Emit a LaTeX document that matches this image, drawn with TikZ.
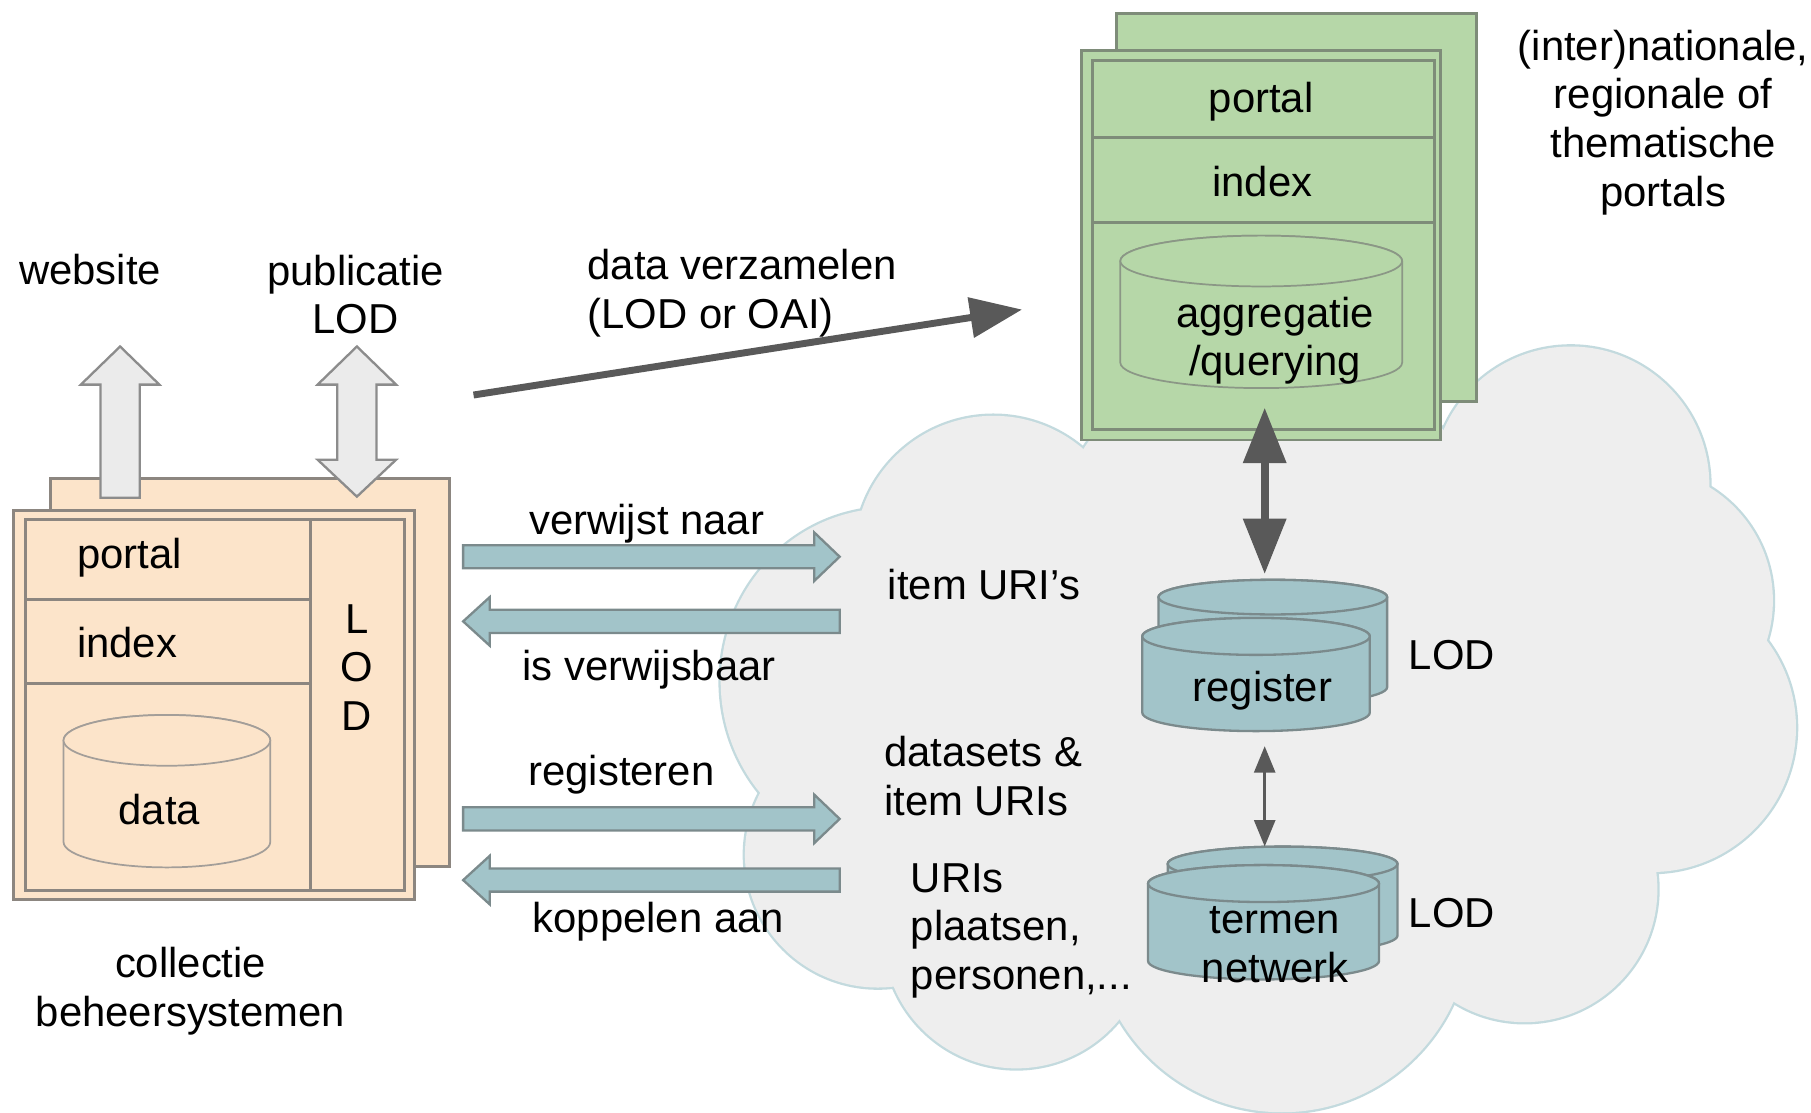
\documentclass[tikz,border=0pt]{standalone}
\usepackage{fontspec}
\setmainfont{Liberation Sans}
\usepackage{tikz}
\usetikzlibrary{calc,positioning,arrows.meta}
\definecolor{beige}{HTML}{FCE4CA}
\definecolor{boxline}{HTML}{8C8680}
\definecolor{portalgreen}{HTML}{B6D7A8}
\definecolor{greenline}{HTML}{7E8C79}
\definecolor{cloudgray}{HTML}{EEEEEE}
\definecolor{cloudline}{HTML}{C3DADE}
\definecolor{uriblue}{HTML}{A2C4C9}
\definecolor{uriline}{HTML}{7B8A8C}
\definecolor{hollowgray}{HTML}{EBEBEB}
\definecolor{hollowline}{HTML}{8C8C8C}
\definecolor{darkarrow}{HTML}{595959}
\tikzset{
  lbl/.style={inner sep=0pt, align=center},
  lbll/.style={inner sep=0pt, align=left, anchor=west},
  beigebox/.style={draw=boxline, fill=beige, line width=0.025cm},
  beigeline/.style={draw=boxline, line width=0.025cm},
  greenbox/.style={draw=greenline, fill=portalgreen, line width=0.025cm},
  greenln/.style={draw=greenline, line width=0.025cm},
  beigecyl/.style={draw=boxline!80, fill=beige, line width=0.015cm},
  greencyl/.style={draw=greenline!90, fill=portalgreen, line width=0.015cm},
  bluecyl/.style={draw=uriline, fill=uriblue, line width=0.02cm},
  hollow/.style={draw=hollowline, fill=hollowgray, line width=0.02cm},
  uriarrow/.style={draw=uriline, fill=uriblue, line width=0.02cm},
  harvest/.style={draw=darkarrow, line width=0.06cm, -{Triangle[length=0.45cm,width=0.34cm]}},
  darkdbl/.style={draw=darkarrow, line width=0.07cm, {Triangle[length=0.48cm,width=0.36cm]}-{Triangle[length=0.48cm,width=0.36cm]}},
  thindbl/.style={draw=darkarrow, line width=0.03cm, {Triangle[length=0.23cm,width=0.18cm]}-{Triangle[length=0.23cm,width=0.18cm]}},
}
% cylinder: name, cx, y top, y bottom, rx, ry, style
\newcommand{\cyl}[7]{%
  \path[#7] (#2-#5,#3) -- (#2-#5,#4) arc[start angle=180,end angle=0,x radius=#5,y radius=#6]
    -- (#2+#5,#3) arc[start angle=0,end angle=-180,x radius=#5,y radius=#6] -- cycle;
  \draw[#7] (#2,#3) ellipse[x radius=#5,y radius=#6];
  \coordinate (#1) at (#2,#3);
}

\begin{document}
\begin{tikzpicture}[x=0.01cm, y=-0.01cm, font=\fontsize{10.3}{12}\selectfont]
   \useasboundingbox (0,0) rectangle (1568,963);

   % cloud
   \foreach \cx/\cy/\rx/\ry in {770/590/146/150, 860/480/120/120, 1100/450/180/140,
       1360/420/120/120, 1420/520/115/115, 1430/630/125/125, 1320/770/115/115,
       1110/800/163/163, 880/810/115/115, 760/740/115/115, 1090/620/350/230}
     \draw[cloudline, line width=0.04cm] (\cx,\cy) ellipse[x radius=\rx, y radius=\ry];
   \foreach \cx/\cy/\rx/\ry in {770/590/146/150, 860/480/120/120, 1100/450/180/140,
       1360/420/120/120, 1420/520/115/115, 1430/630/125/125, 1320/770/115/115,
       1110/800/163/163, 880/810/115/115, 760/740/115/115, 1090/620/350/230}
     \fill[cloudgray] (\cx,\cy) ellipse[x radius=\rx, y radius=\ry];

   % collectie beheersystemen
   \draw[beigebox] (44,414) rectangle (389,750);
   \draw[hollow] (87,431) -- (87,333) -- (70,333) -- (104,300) -- (138,333) -- (121,333) -- (121,431) -- cycle;
   \draw[hollow] (292,333) -- (275,333) -- (309,300) -- (343,333) -- (326,333) -- (326,398)
        -- (343,398) -- (309,430) -- (275,398) -- (292,398) -- cycle;
   \draw[beigebox] (12,442) rectangle (359,779);
   \draw[beigeline] (22,450) rectangle (350,771);
   \draw[beigeline] (269,450) -- (269,771);
   \draw[beigeline] (22,519) -- (269,519);
   \draw[beigeline] (22,592) -- (269,592);
   \cyl{datatop}{144.5}{641}{729}{89.5}{22}{beigecyl}

   \node[lbll] (cportal) at (66,483) {portal};
   \node[lbll] (cindex)  at (66,556) {index};
   \node[lbl]  (cdata)   at (138,701) {data};
   \node[lbl]  (clod)    at (309,578) {L\\O\\D};
   \node[lbl]  (cbs)     at (165,858) {collectie\\beheersystemen};
   \node[lbl]  (website) at (78,233) {website};
   \node[lbl]  (publod)  at (308,255) {publicatie\\LOD};

   % portals
   \draw[greenbox] (967,12) rectangle (1278,348);
   \draw[greenbox] (936,44) rectangle (1247,381);
   \draw[greenln] (946,52) rectangle (1242,372);
   \draw[greenln] (946,119) -- (1242,119);
   \draw[greenln] (946,193) -- (1242,193);
   \cyl{aggrtop}{1092}{226}{314}{122}{22}{greencyl}

   \node[lbl] (pportal) at (1092,88) {portal};
   \node[lbl] (pindex)  at (1093,157) {index};
   \node[lbl] (aggr)    at (1104,295) {aggregatie\\/querying};
   \node[lbl] (intl)    at (1440,106) {(inter)nationale,\\regionale of\\thematische\\portals};

   % data verzamelen
   \coordinate (harvfrom) at (410,342);
   \coordinate (harvto)   at (885,268);
   \draw[harvest] (harvfrom) -- (harvto);
   \node[lbll] (verz) at (508,254) {data verzamelen\\(LOD or OAI)};

   % links with the cloud
   \foreach \yc in {482,709}
     \draw[uriarrow] (401,\yc-10) -- (705,\yc-10) -- (705,\yc-21) -- (727,\yc)
        -- (705,\yc+21) -- (705,\yc+10) -- (401,\yc+10) -- cycle;
   \foreach \yc in {538,762}
     \draw[uriarrow] (727,\yc-10) -- (424,\yc-10) -- (424,\yc-21) -- (401,\yc)
        -- (424,\yc+21) -- (424,\yc+10) -- (727,\yc+10) -- cycle;
   \node[lbl] (verw)  at (560,453) {verwijst naar};
   \node[lbl] (verwb) at (562,580) {is verwijsbaar};
   \node[lbl] (reg)   at (538,671) {registeren};
   \node[lbl] (kopp)  at (570,798) {koppelen aan};

   \node[lbll] (itemuri) at (768,506) {item URI’s};
   \node[lbll] (dsets)   at (765,672) {datasets \&\\item URIs};
   \node[lbll] (uris)    at (788,806) {URIs\\plaatsen,\\personen,...};

   % register and termen netwerk
   \cyl{regback}{1102}{517}{595}{99}{15}{bluecyl}
   \cyl{regfront}{1087.5}{551}{617}{98.5}{16}{bluecyl}
   \cyl{termback}{1110.5}{748}{810}{99.5}{15}{bluecyl}
   \cyl{termfront}{1094}{765}{832}{100}{16}{bluecyl}
   \node[lbl] (register) at (1093,598) {register};
   \node[lbl] (termen)   at (1104,818) {termen\\netwerk};
   \node[lbl] (reglod)   at (1257,567) {LOD};
   \node[lbl] (termlod)  at (1257,791) {LOD};

   \coordinate (aggrout) at (1095,353);
   \coordinate (regin)   at (1095,497);
   \coordinate (regout)  at (1095,646);
   \coordinate (termin)  at (1095,733);
   \draw[darkdbl] (aggrout) -- (regin);
   \draw[thindbl] (regout) -- (termin);
\end{tikzpicture}
\end{document}
